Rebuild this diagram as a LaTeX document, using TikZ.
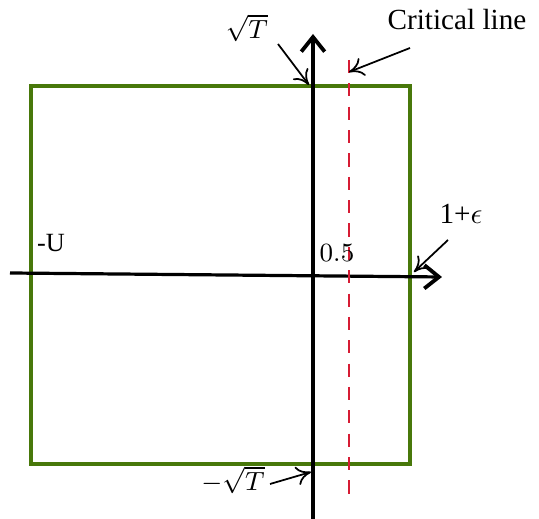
\documentclass[tikz,border=0pt]{standalone}
\usepackage{amsmath,amssymb}
\usepackage{fontspec}
\setmainfont{Liberation Serif}
\usetikzlibrary{positioning,arrows.meta}
\definecolor{boxgreen}{RGB}{72,120,10}
\definecolor{critred}{RGB}{214,28,52}
\tikzset{
  axis/.style={line width=1.1pt,black,-{Straight Barb[length=5pt,width=8pt,line width=1.3pt]}},
  contour/.style={draw=boxgreen,line width=1.1pt},
  crit/.style={critred,line width=0.5pt,dash pattern=on 4.5pt off 3.5pt},
  pointer/.style={line width=0.6pt,black,-{To[length=5pt,width=6.5pt]}},
  slab/.style={font=\small,inner sep=0pt},
  blab/.style={font=\normalsize,inner sep=0pt}
}
\begin{document}
\begin{tikzpicture}[x=0.3425pt,y=-0.3425pt]
  \useasboundingbox (0,0) rectangle (539,519);
  \draw[contour] (31,86) rectangle (410,464);
  \coordinate (xstart) at (10,273);
  \coordinate (xend) at (442,277);
  \coordinate (ystart) at (313,519);
  \coordinate (yend) at (313,34);
  \draw[axis] (xstart) -- (xend);
  \draw[axis] (ystart) -- (yend);
  \coordinate (crittop) at (349,60);
  \coordinate (critbot) at (349,498);
  \draw[crit] (crittop) -- (critbot);
  \node[slab] (sqT) at (247,28) {$\sqrt{T}$};
  \node[slab] (msqT) at (233,480) {$-\sqrt{T}$};
  \node[blab] (critlab) at (457,20) {Critical line};
  \node[blab] (oneeps) at (461,214) {1+$\epsilon$};
  \node[slab] (mU) at (51,243) {-U};
  \node[slab] (half) at (337,253) {$0.5$};
  \coordinate (sqTtail) at (278,44);
  \coordinate (sqThead) at (309,85);
  \coordinate (crittail) at (410,48);
  \coordinate (crithead) at (349,72);
  \coordinate (epstail) at (448,240);
  \coordinate (epshead) at (414,272);
  \coordinate (msqTtail) at (270,484);
  \coordinate (msqThead) at (311,472);
  \draw[pointer] (sqTtail) -- (sqThead);
  \draw[pointer] (crittail) -- (crithead);
  \draw[pointer] (epstail) -- (epshead);
  \draw[pointer] (msqTtail) -- (msqThead);
\end{tikzpicture}
\end{document}
